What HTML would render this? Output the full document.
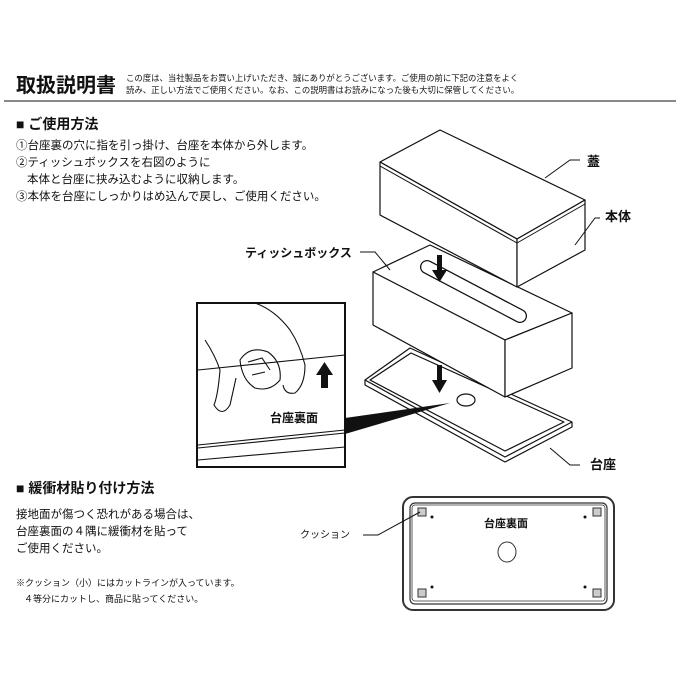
<!DOCTYPE html>
<html><head><meta charset="utf-8"><style>
html,body{margin:0;padding:0;background:#fff}
svg{display:block}
text{font-family:"Liberation Sans","Noto Sans CJK JP",sans-serif;fill:#111}
.b{font-weight:bold}
</style></head><body>
<svg width="680" height="680" viewBox="0 0 680 680" xmlns="http://www.w3.org/2000/svg">
<text x="16" y="92" font-size="20" class="b">取扱説明書</text>
<text x="126" y="81" font-size="8.4">この度は、当社製品をお買い上げいただき、誠にありがとうございます。ご使用の前に下記の注意をよく</text>
<text x="126" y="93" font-size="8.4">読み、正しい方法でご使用ください。なお、この説明書はお読みになった後も大切に保管してください。</text>
<line x1="4" y1="101" x2="676" y2="101" stroke="#888" stroke-width="2"/>
<text x="16" y="129" font-size="14" class="b">■ ご使用方法</text>
<text x="16" y="149" font-size="11.5">①台座裏の穴に指を引っ掛け、台座を本体から外します。</text>
<text x="16" y="166" font-size="11.5">②ティッシュボックスを右図のように</text>
<text x="27" y="183" font-size="11.5">本体と台座に挟み込むように収納します。</text>
<text x="16" y="200" font-size="11.5">③本体を台座にしっかりはめ込んで戻し、ご使用ください。</text>

<g fill="#fff" stroke="#111" stroke-width="1.2" stroke-linejoin="round">
<!-- base tray -->
<polygon points="365,380 410,348 572,422 505,457"/>
<polygon points="370,380 411,353 564,422 505,451" fill="none"/>
<polyline points="365,380 365,385 505,462 572,427 572,422" fill="none"/>
<ellipse cx="466" cy="400" rx="9" ry="6"/>
<!-- tissue box -->
<polygon points="373,272 430,245 572,313 505,340"/>
<polygon points="373,272 505,340 505,397 373,325"/>
<polygon points="505,340 572,313 572,368 505,397"/>
<path d="M427,267 L520,316" stroke-width="14" stroke-linecap="round"/>
<path d="M427,267 L520,316" stroke-width="11.5" stroke="#fff" stroke-linecap="round"/>
<!-- lid/body -->
<polygon points="380,162 440,130 585,200 517,239"/>
<polygon points="380,162 517,239 517,287 380,215"/>
<polygon points="517,239 585,200 585,250 517,287"/>
<line x1="380" y1="166" x2="517" y2="243" stroke-width="1"/>
<line x1="517" y1="243" x2="585" y2="204" stroke-width="1"/>
</g>
<!-- arrows -->
<g fill="#111">
<rect x="437" y="255" width="5" height="17"/><polygon points="432,270 447,270 439.5,282"/>
<rect x="437" y="365" width="5" height="17"/><polygon points="432,380 447,380 439.5,393"/>
</g>
<!-- inset -->
<rect x="197" y="303" width="148" height="164" fill="#fff" stroke="#111" stroke-width="2"/>
<polygon points="345,418 450,403 345,434" fill="#111"/>
<g stroke="#111" fill="none" stroke-width="1.1">
<line x1="198" y1="370" x2="345" y2="355"/>
<line x1="198" y1="445" x2="345" y2="430"/>
<line x1="198" y1="448" x2="345" y2="433"/>
<line x1="198" y1="460" x2="345" y2="447"/>
<path d="M205,340 Q215,355 220,370 Q218,395 214,405 Q222,418 230,405 L236,378"/>
<path d="M255,303 Q275,310 290,330 Q300,345 305,365 Q305,385 295,393 Q285,395 283,385"/>
<path d="M240,360 Q250,345 268,352 Q282,362 280,380 Q270,392 255,388 Q242,380 240,360 Z"/>
<path d="M248,362 L262,358 L270,370 M252,375 L265,372"/>
</g>
<rect x="321" y="373" width="7" height="15" fill="#111"/><polygon points="316,375 333,375 324.5,362" fill="#111"/>
<text x="270" y="422" font-size="12" class="b">台座裏面</text>
<!-- labels -->
<g stroke="#111" fill="none" stroke-width="1">
<polyline points="545,178 570,160 580,160"/>
<polyline points="575,245 595,218 600,218"/>
<polyline points="360,252 375,252 390,270"/>
<polyline points="550,448 570,465 580,465"/>
</g>
<text x="587" y="166" font-size="13" class="b">蓋</text>
<text x="605" y="221" font-size="13" class="b">本体</text>
<text x="245" y="257" font-size="12" class="b">ティッシュボックス</text>
<text x="590" y="469" font-size="13" class="b">台座</text>

<text x="16" y="493" font-size="14" class="b">■ 緩衝材貼り付け方法</text>
<text x="16" y="518" font-size="11.5">接地面が傷つく恐れがある場合は、</text>
<text x="16" y="535" font-size="11.5">台座裏面の４隅に緩衝材を貼って</text>
<text x="16" y="552" font-size="11.5">ご使用ください。</text>
<text x="16" y="586" font-size="9">※クッション（小）にはカットラインが入っています。</text>
<text x="24" y="602" font-size="9">４等分にカットし、商品に貼ってください。</text>

<rect x="403" y="497" width="211" height="113" rx="10" fill="#fff" stroke="#333" stroke-width="2"/>
<rect x="410" y="503" width="197" height="101" rx="5" fill="none" stroke="#333" stroke-width="1.2"/>
<rect x="412" y="505" width="193" height="96" rx="3" fill="none" stroke="#333" stroke-width="0.8"/>
<g fill="#ccc" stroke="#333" stroke-width="1">
<rect x="418" y="508" width="8" height="8"/><rect x="593" y="508" width="8" height="8"/>
<rect x="418" y="589" width="8" height="8"/><rect x="593" y="589" width="8" height="8"/>
</g>
<g fill="#111"><circle cx="432" cy="517" r="1.5"/><circle cx="585" cy="517" r="1.5"/><circle cx="432" cy="587" r="1.5"/><circle cx="585" cy="587" r="1.5"/></g>
<ellipse cx="507" cy="552" rx="9" ry="10" fill="none" stroke="#333" stroke-width="1"/>
<text x="484" y="527" font-size="11" class="b">台座裏面</text>
<text x="300" y="538" font-size="10">クッション</text>
<polyline points="363,535 378,535 420,512" fill="none" stroke="#111" stroke-width="1"/>
</svg>
</body></html>
